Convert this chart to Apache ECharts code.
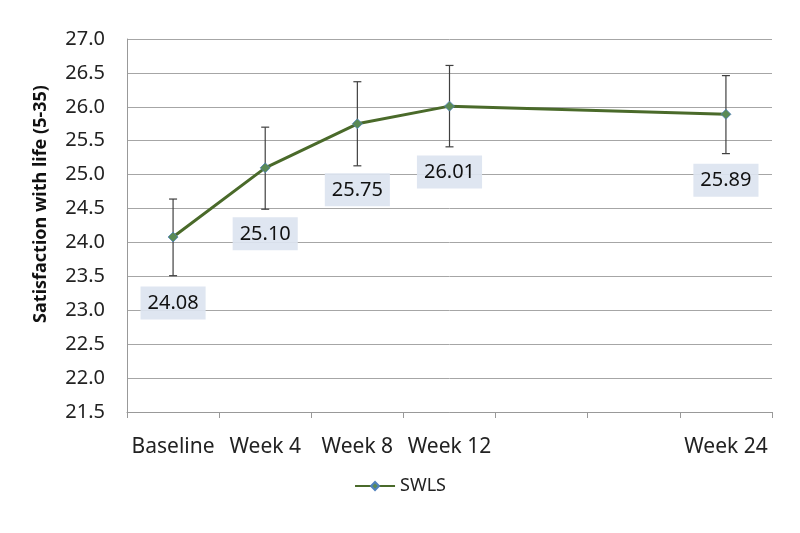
<!DOCTYPE html>
<html>
<head>
<meta charset="utf-8">
<script src="https://cdn.jsdelivr.net/npm/echarts@6/dist/echarts.min.js"></script>
<style>
html,body{margin:0;padding:0;background:#fff;}
#chart{width:800px;height:533px;}
</style>
</head>
<body>
<div id="chart"></div>
<script>
// Data
const categories = ['Baseline', 'Week 4', 'Week 8', 'Week 12', '', '', 'Week 24'];
const swlsMean  = [24.08, 25.10, 25.75, 26.01, null, null, 25.89];
const errLower  = [23.51, 24.49, 25.13, 25.41, null, null, 25.31];
const errUpper  = [24.64, 25.70, 26.37, 26.61, null, null, 26.46];
const yTicks = { min: 21.5, max: 27.0, step: 0.5 };
const yTitle = 'Satisfaction with life (5-35)';

const errData = [];
categories.forEach((c, i) => {
  if (swlsMean[i] != null) errData.push([i, errLower[i], errUpper[i]]);
});

const chart = echarts.init(document.getElementById('chart'));
const font = '"Noto Sans", "Open Sans", sans-serif';
chart.setOption({
  animation: false,
  textStyle: { fontFamily: font },
  grid: { left: 127, right: 28, top: 39, bottom: 121 },
  graphic: [{
    type: 'text',
    x: 41,
    y: 204,
    rotation: Math.PI / 2,
    style: {
      text: yTitle,
      fontSize: 18,
      fontWeight: 'bold',
      fill: '#111',
      fontFamily: font,
      align: 'center',
      verticalAlign: 'middle'
    }
  }],
  legend: {
    bottom: 33,
    left: 'center',
    itemWidth: 40,
    itemHeight: 10,
    itemGap: 4,
    textStyle: { fontSize: 18, color: '#222', fontFamily: font },
    data: ['SWLS']
  },
  xAxis: {
    type: 'category',
    data: categories,
    boundaryGap: true,
    axisLine: { show: true, lineStyle: { color: '#999', width: 1 } },
    axisTick: { show: true, alignWithLabel: false, length: 6, lineStyle: { color: '#999' } },
    axisLabel: { fontSize: 21, color: '#222', margin: 25, interval: 0, fontFamily: font },
    splitLine: { show: false }
  },
  yAxis: {
    type: 'value',
    min: yTicks.min,
    max: yTicks.max,
    interval: yTicks.step,
    axisLine: { show: true, lineStyle: { color: '#999', width: 1 } },
    axisTick: { show: false },
    axisLabel: { fontSize: 20, color: '#222', margin: 22, formatter: v => v.toFixed(1), fontFamily: font },
    splitLine: { show: true, lineStyle: { color: '#a6a6a6', width: 1 } }
  },
  series: [
    {
      name: 'SWLS',
      type: 'line',
      data: swlsMean,
      connectNulls: true,
      symbol: 'diamond',
      symbolSize: 10,
      lineStyle: { color: '#4a6a2a', width: 3 },
      itemStyle: { color: '#5a8a55', borderColor: '#4f81bd', borderWidth: 0.8 },
      z: 3,
      label: {
        show: true,
        position: 'bottom',
        distance: 44,
        formatter: p => p.value.toFixed(2),
        fontSize: 20,
        lineHeight: 22,
        color: '#111',
        fontFamily: font,
        backgroundColor: 'rgba(220,228,240,0.92)',
        padding: [6, 7, 5, 7]
      }
    },
    {
      name: 'err',
      type: 'custom',
      data: errData,
      z: 2,
      renderItem: function (params, api) {
        const x = api.value(0);
        const lo = api.coord([x, api.value(1)]);
        const hi = api.coord([x, api.value(2)]);
        const cap = 4;
        const style = { stroke: '#404040', lineWidth: 1.2 };
        return {
          type: 'group',
          children: [
            { type: 'line', shape: { x1: lo[0], y1: lo[1], x2: hi[0], y2: hi[1] }, style },
            { type: 'line', shape: { x1: lo[0] - cap, y1: lo[1], x2: lo[0] + cap, y2: lo[1] }, style },
            { type: 'line', shape: { x1: hi[0] - cap, y1: hi[1], x2: hi[0] + cap, y2: hi[1] }, style }
          ]
        };
      },
      encode: { x: 0, y: [1, 2] },
      silent: true
    }
  ]
});
</script>
</body>
</html>
